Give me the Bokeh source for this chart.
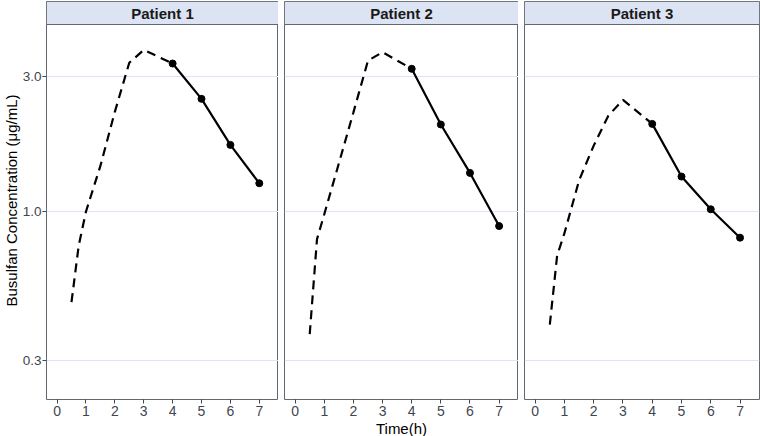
from bokeh.plotting import figure
from bokeh.layouts import row
from bokeh.models import Range1d, FixedTicker, PrintfTickFormatter, BoxAnnotation, Label, Title
from bokeh.embed import file_html
from bokeh.resources import INLINE

# ---- data ----
panel_titles = ["Patient 1", "Patient 2", "Patient 3"]
times_pred = [0.5, 0.75, 1.0, 1.5, 2.0, 2.5, 3.0, 4.0]
p1_pred = [0.48, 0.76, 1.00, 1.45, 2.25, 3.35, 3.72, 3.33]
p2_pred = [0.37, 0.80, 0.98, 1.48, 2.24, 3.41, 3.65, 3.19]
p3_pred = [0.40, 0.70, 0.84, 1.29, 1.71, 2.18, 2.48, 2.04]
times_obs = [4, 5, 6, 7]
p1_obs = [3.33, 2.50, 1.72, 1.26]
p2_obs = [3.19, 2.03, 1.37, 0.89]
p3_obs = [2.04, 1.33, 1.02, 0.81]
x_ticks = [0, 1, 2, 3, 4, 5, 6, 7]
y_ticks = [0.3, 1.0, 3.0]
y_tick_labels = ["0.3", "1.0", "3.0"]
x_title = "Time(h)"
y_title = "Busulfan Concentration (\u03bcg/mL)"

preds = [p1_pred, p2_pred, p3_pred]
obss = [p1_obs, p2_obs, p3_obs]

# ---- layout/style ----
FONT = "Liberation Sans"
frame_h = 398
strip_px = 23
panel_px = frame_h - strip_px
x_lo, x_hi = -0.365, 7.665
log_lo, log_hi = -0.662, 0.660
px_per_dec = panel_px / (log_hi - log_lo)
log_top = log_hi + strip_px / px_per_dec
y_lo, y_strip, y_top = 10 ** log_lo, 10 ** log_hi, 10 ** log_top
y_mid = 10 ** ((log_hi + log_top) / 2)

left_border = 43
frame_ws = [232, 234, 235]
border_col = "#62676f"
grid_col = "#dde5f4"
strip_fill = "#dce3f2"
tick_col = "#3f4650"

figs = []
for i in range(3):
    first = i == 0
    p = figure(
        width=None, height=None,
        frame_width=frame_ws[i], frame_height=frame_h,
        x_range=Range1d(x_lo, x_hi),
        y_range=Range1d(y_lo, y_top),
        y_axis_type="log",
        y_axis_location="left" if first else None,
        output_backend="svg", toolbar_location=None,
        min_border_left=left_border if first else 6,
        min_border_right=1 if i == 2 else 0,
        min_border_top=1, min_border_bottom=0,
        background_fill_color="white", border_fill_color="white",
    )
    p.outline_line_color = border_col
    p.outline_line_width = 1
    p.xgrid.grid_line_color = None
    p.ygrid.ticker = FixedTicker(ticks=y_ticks)
    p.ygrid.grid_line_color = grid_col
    p.ygrid.grid_line_width = 1

    xa = p.xaxis[0]
    xa.ticker = FixedTicker(ticks=x_ticks)
    xa.axis_line_color = None
    xa.major_tick_line_color = tick_col
    xa.major_tick_out = 4
    xa.major_tick_in = 0
    xa.minor_tick_line_color = None
    xa.major_label_text_font = FONT
    xa.major_label_text_font_size = "14px"
    xa.major_label_text_color = tick_col
    xa.major_label_standoff = 2
    if i == 1:
        xa.axis_label = x_title
        xa.axis_label_text_font = FONT
        xa.axis_label_text_font_size = "15px"
        xa.axis_label_text_font_style = "normal"
        xa.axis_label_text_color = "#000000"
        xa.axis_label_standoff = 1

    if first:
        ya = p.yaxis[0]
        ya.ticker = FixedTicker(ticks=y_ticks)
        ya.formatter = PrintfTickFormatter(format="%.1f")
        ya.major_label_overrides = {t: s for t, s in zip(y_ticks, y_tick_labels)}
        ya.axis_line_color = None
        ya.major_tick_line_color = tick_col
        ya.major_tick_out = 4
        ya.major_tick_in = 0
        ya.minor_tick_line_color = None
        ya.major_label_text_font = FONT
        ya.major_label_text_font_size = "13.5px"
        ya.major_label_text_color = tick_col
        ya.major_label_standoff = 1
        p.add_layout(Title(text=y_title, align="center", standoff=0,
                           text_font=FONT, text_font_size="15px",
                           text_font_style="normal", text_color="#000000"),
                     "left")

    p.line(times_pred, preds[i], line_color="black", line_width=2.2, line_dash="9 6")
    p.line(times_obs, obss[i], line_color="black", line_width=2.2)
    p.scatter(times_obs, obss[i], size=7, fill_color="black", line_color="black")

    strip = BoxAnnotation(left=x_lo, right=x_hi, bottom=y_strip, top=y_top,
                          fill_color=strip_fill, fill_alpha=1.0,
                          line_color=border_col, line_width=1, line_alpha=1.0)
    p.add_layout(strip)
    p.add_layout(Label(x=(x_lo + x_hi) / 2, y=y_mid, text=panel_titles[i],
                       text_align="center", text_baseline="middle",
                       text_font=FONT, text_font_size="15px",
                       text_font_style="bold", text_color="#1a1a1a"))
    figs.append(p)

layout = row(*figs, spacing=0)
open("out.html", "w").write(file_html(layout, INLINE))
